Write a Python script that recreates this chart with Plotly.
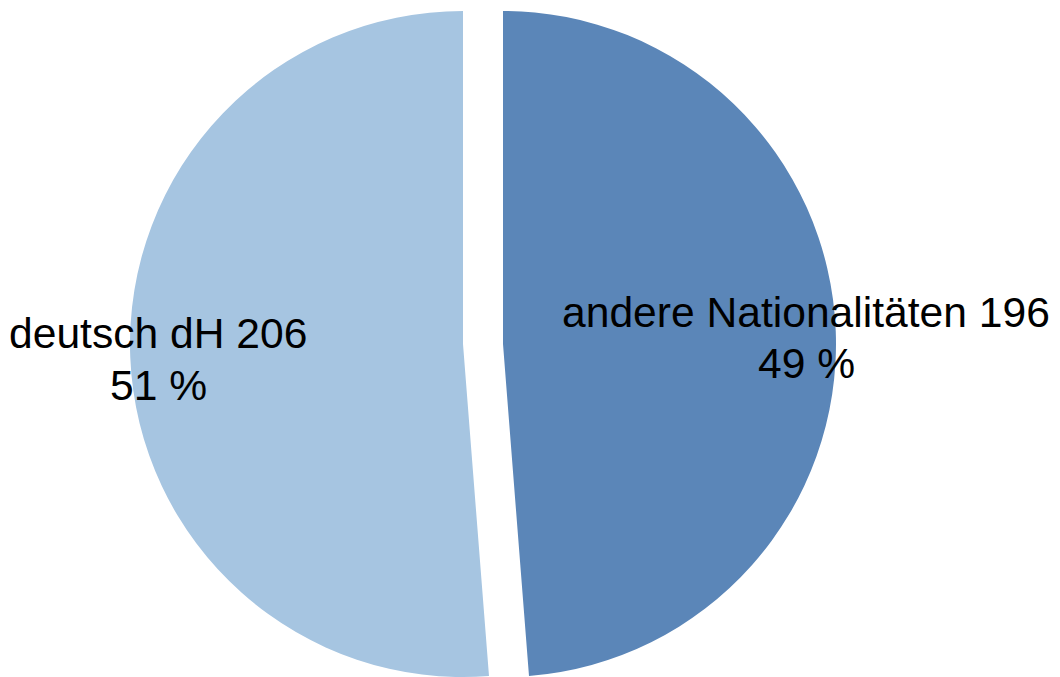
import plotly.graph_objects as go

# ---- data ----
categories = ["andere Nationalitäten", "deutsch dH"]
values = [196, 206]
colors = ["#5B86B8", "#A6C5E1"]

W, H = 1060, 677
total = sum(values)
pcts = [round(v * 100 / total) for v in values]

# ---- layout constants (pixels) ----
R = 333                     # pie radius
CY = H - R                  # centre y (from top)
CENTERS_X = [503, 463]      # exploded centres of each slice
LABEL_CX = [806, 158]       # horizontal centre of each label
LABEL_BASE = [(312, 363), (333, 384.5)]  # vertical middle of line 1/2
FONT = dict(family="Liberation Sans, Arial, sans-serif", size=42.6, color="black")

fig = go.Figure()
for i, (cat, cx) in enumerate(zip(categories, CENTERS_X)):
    slice_colors = [c if j == i else "rgba(0,0,0,0)" for j, c in enumerate(colors)]
    fig.add_trace(go.Pie(
        labels=categories,
        values=values,
        sort=False,
        direction="clockwise",
        rotation=0,
        marker=dict(colors=slice_colors, line=dict(width=0)),
        textinfo="none",
        hoverinfo="skip",
        showlegend=False,
        domain=dict(x=[(cx - R) / W, (cx + R) / W], y=[0, 2 * R / H]),
    ))

annotations = []
for i, cat in enumerate(categories):
    lines = [f"{cat} {values[i]}", f"{pcts[i]} %"]
    for line, ym in zip(lines, LABEL_BASE[i]):
        annotations.append(dict(
            text=line, x=LABEL_CX[i] / W, y=1 - ym / H,
            xref="paper", yref="paper", xanchor="center", yanchor="middle",
            showarrow=False, font=FONT,
        ))

fig.update_layout(
    width=W, height=H,
    margin=dict(l=0, r=0, t=0, b=0),
    paper_bgcolor="white", plot_bgcolor="white",
    annotations=annotations,
)

fig.write_html("out.html")
